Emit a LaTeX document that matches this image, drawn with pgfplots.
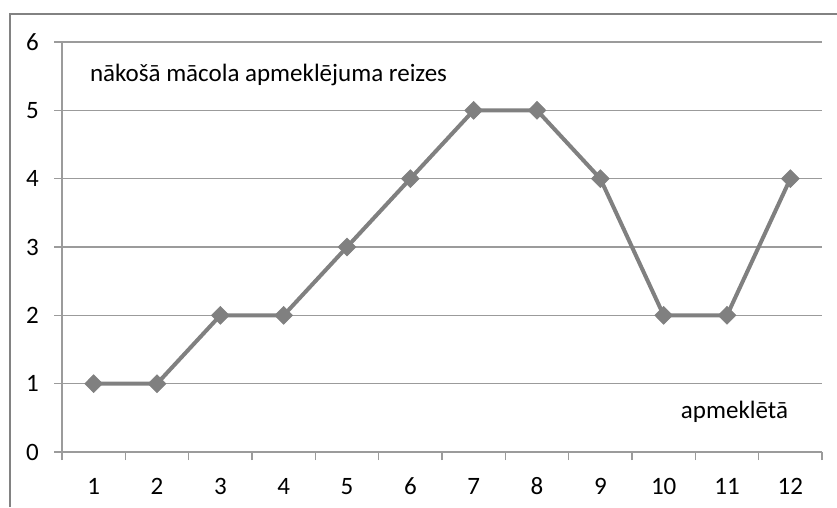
\documentclass[border=0pt]{standalone}
\usepackage{pgfplots}
\pgfplotsset{compat=1.18}
\usepackage{fontspec}
\setmainfont{Carlito}
\definecolor{lineg}{RGB}{128,128,128}
\definecolor{gridg}{RGB}{155,155,155}
\definecolor{frameg}{RGB}{130,130,130}
\begin{document}
\begin{tikzpicture}[x=1pt,y=1pt]
\useasboundingbox (-62,-55) rectangle (775,452);
\draw[frameg,line width=2.5pt] (-52,-55) -- (-52,438) -- (775,438);
\begin{axis}[
  at={(0,0)}, anchor=south west,
  scale only axis, width=760pt, height=410pt,
  xmin=0.5, xmax=12.5, ymin=0, ymax=6,
  xtick={1,...,12}, minor xtick={0.5,1.5,...,12.5},
  ytick={0,...,6},
  axis x line*=bottom, axis y line*=left,
  axis line style={gridg,line width=1.5pt,-},
  ymajorgrids, major grid style={gridg,line width=1.5pt},
  major x tick style={draw=none},
  minor x tick style={gridg,line width=1.5pt},
  major y tick style={gridg,line width=1.5pt},
  tick align=outside, major tick length=8pt, minor tick length=8pt,
  /pgf/number format/assume math mode=true,
  tick label style={font=\fontsize{25}{29}\selectfont, text=black, inner sep=0pt},
  xticklabel style={anchor=base, yshift=-34pt},
  yticklabel style={anchor=east, xshift=-15pt},
  clip=false,
]
\addplot[color=lineg, line width=4pt, mark=diamond*, mark size=9pt,
  mark options={fill=lineg, draw=lineg, line width=0.5pt, xscale=1.33}]
  coordinates {(1,1) (2,1) (3,2) (4,2) (5,3) (6,4) (7,5) (8,5) (9,4) (10,2) (11,2) (12,4)};
\node[anchor=west, inner sep=0pt, font=\fontsize{25}{29}\selectfont] at (axis cs:0.94,5.52) {nākošā mācola apmeklējuma reizes};
\node[anchor=west, inner sep=0pt, font=\fontsize{25}{29}\selectfont] at (axis cs:10.27,0.59) {apmeklētā};
\end{axis}
\end{tikzpicture}
\end{document}
